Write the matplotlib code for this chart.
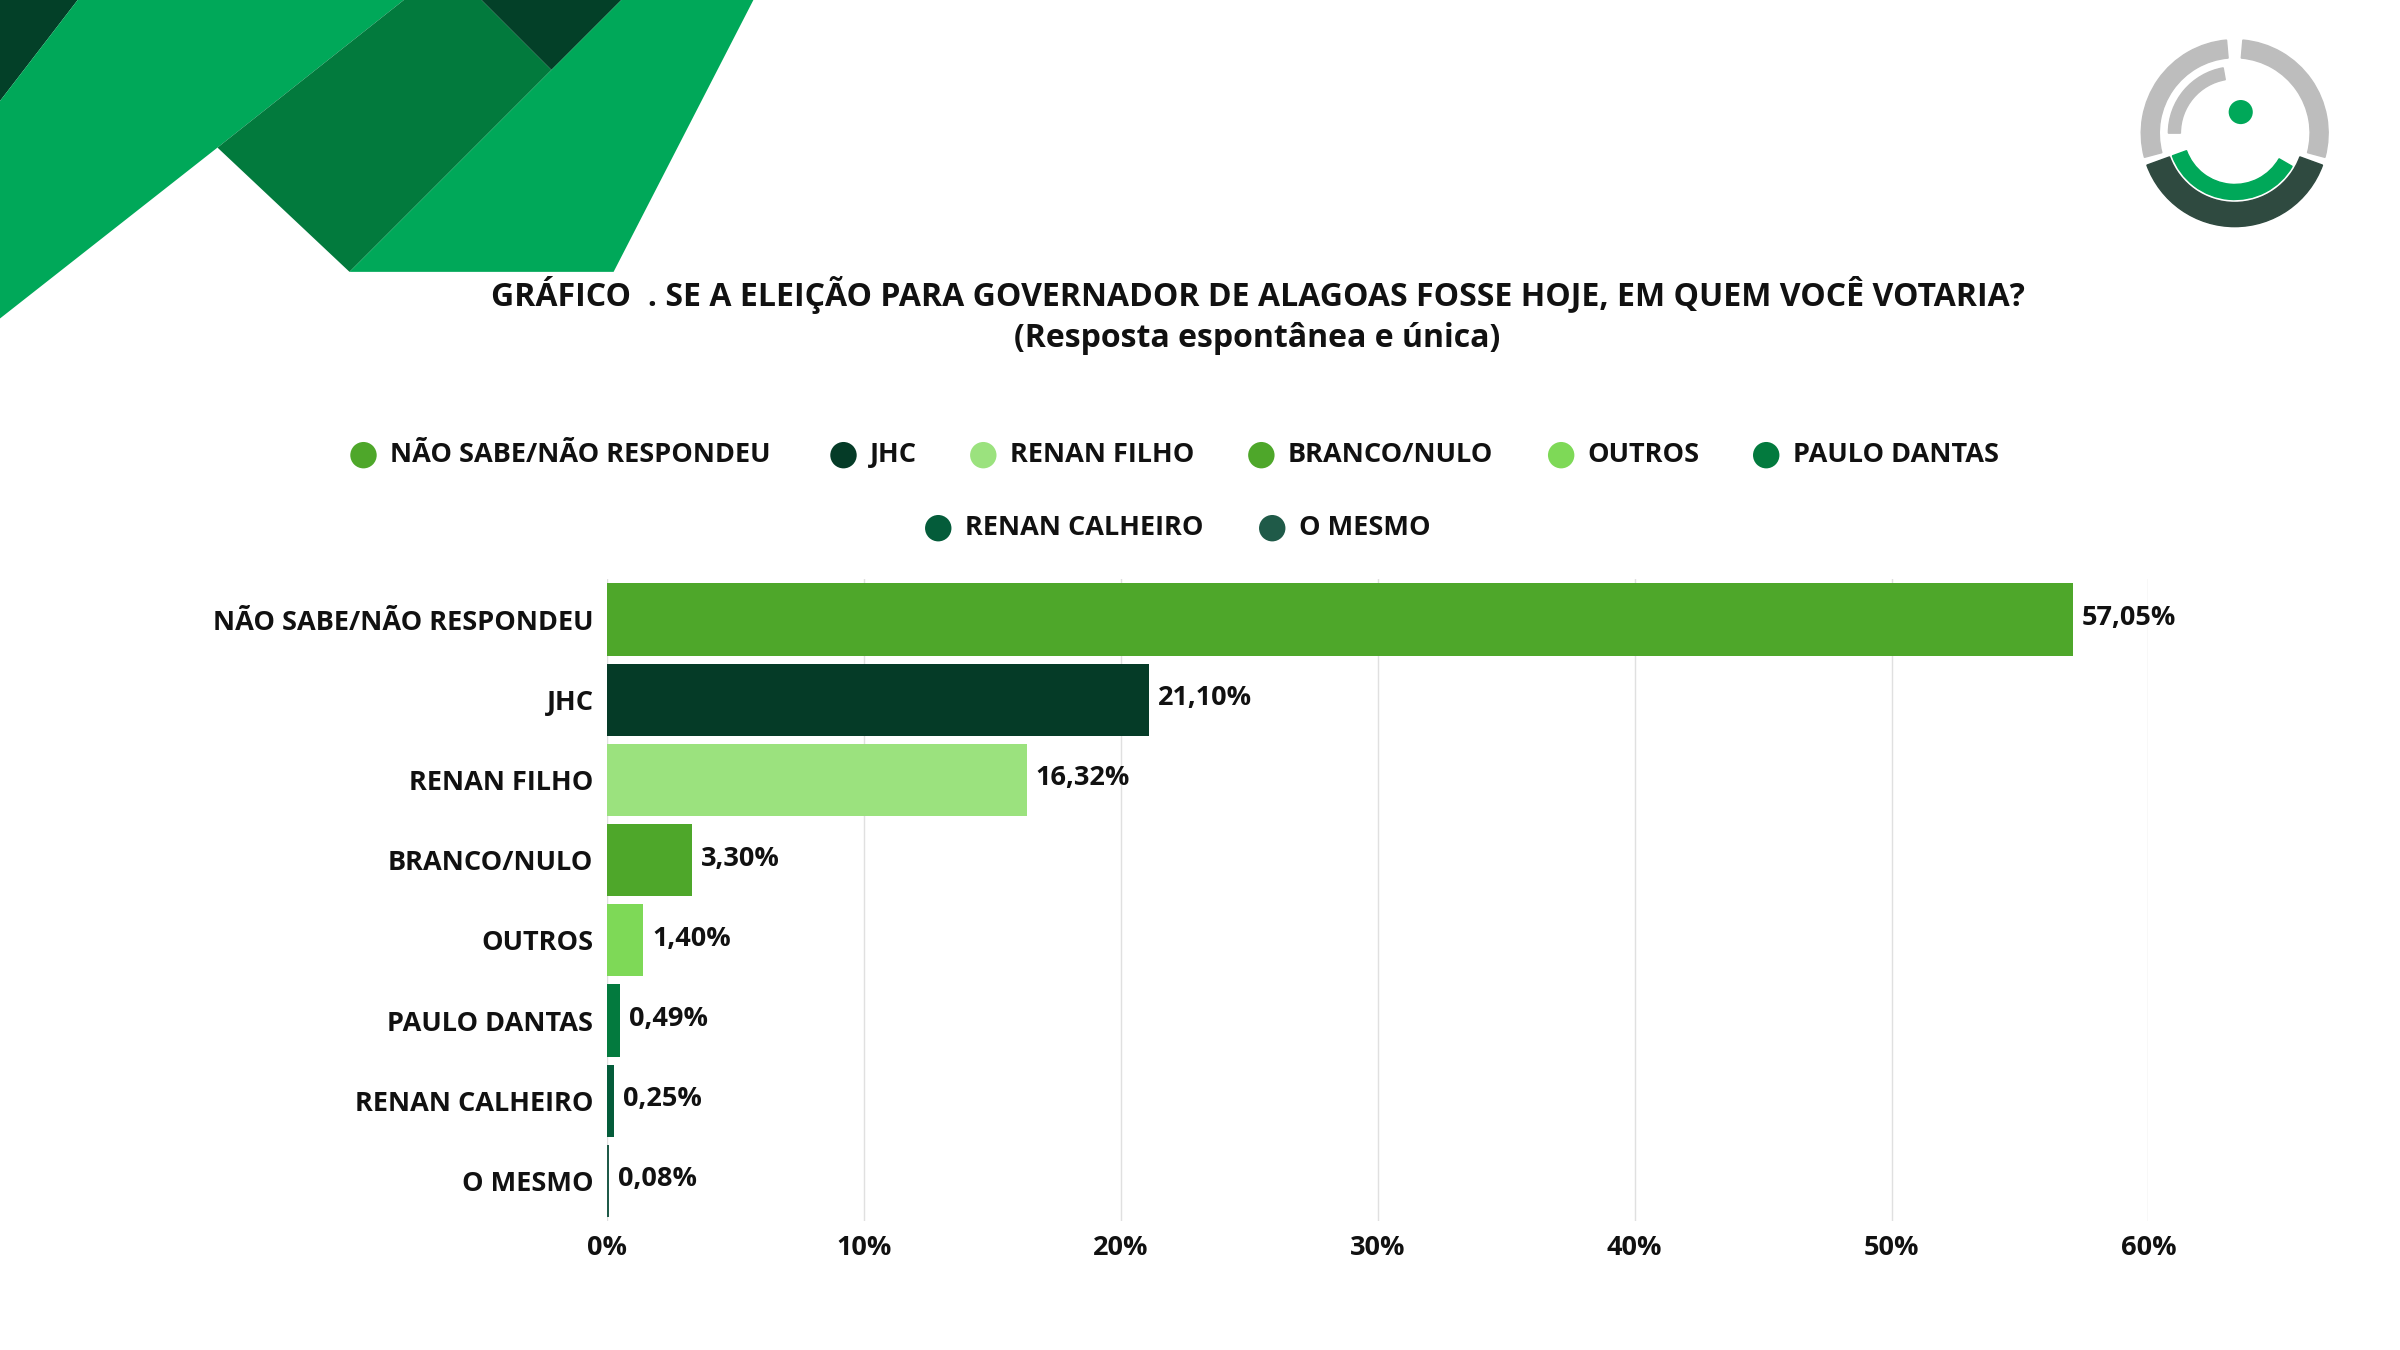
import matplotlib
matplotlib.use("Agg")
import matplotlib.pyplot as plt
from matplotlib.patches import Polygon, Circle, Wedge, Ellipse

categories = ["NÃO SABE/NÃO RESPONDEU", "JHC", "RENAN FILHO", "BRANCO/NULO", "OUTROS",
              "PAULO DANTAS", "RENAN CALHEIRO", "O MESMO"]
values = [57.05, 21.10, 16.32, 3.30, 1.40, 0.49, 0.25, 0.08]
labels = ["57,05%", "21,10%", "16,32%", "3,30%", "1,40%", "0,49%", "0,25%", "0,08%"]
colors = ["#4ea72a", "#053b27", "#9be27e", "#4ea72a", "#7ed957", "#037a3e", "#045c3a", "#1f5a48"]
ticks = [0, 10, 20, 30, 40, 50, 60]

plt.rcParams['font.family'] = ['Open Sans', 'DejaVu Sans']
W, H = 1568, 882
FS = 19.5
fig = plt.figure(figsize=(24, 13.5), dpi=100)

def P(pts):
    return [(x / 1545, 1 - y / 869) for x, y in pts]

for pts, c in [
    ([(0, 0), (50, 0), (0, 65)], "#034028"),
    ([(0, 65), (50, 0), (260, 0), (140, 95), (0, 205)], "#00a859"),
    ([(140, 95), (260, 0), (310, 0), (355, 45), (225, 175)], "#027a3d"),
    ([(310, 0), (400, 0), (355, 45)], "#034028"),
    ([(355, 45), (400, 0), (485, 0), (395, 175), (225, 175)], "#00a859"),
]:
    fig.add_artist(Polygon(P(pts), closed=True, transform=fig.transFigure, color=c, lw=0))

# logo
lax = fig.add_axes([1395 / W, 1 - 152 / H, 130 / W, 130 / H])
lax.set_xlim(0, 132); lax.set_ylim(0, 132); lax.set_aspect('equal'); lax.axis('off')
cx, cy = 66, 66
lax.add_patch(Wedge((cx, cy), 62, 200, 340, width=16, color="#2f4a40"))
lax.add_patch(Wedge((cx, cy), 44, 200, 330, width=10, color="#00a859"))
lax.add_patch(Wedge((cx, cy), 62, 95, 195, width=12, color="#bdbdbd"))
lax.add_patch(Wedge((cx, cy), 62, 345, 85, width=12, color="#bdbdbd"))
lax.add_patch(Wedge((cx, cy), 44, 100, 180, width=8, color="#bdbdbd"))
lax.add_patch(Circle((cx + 4, cy + 14), 8, color="#00a859", lw=0))

fig.text(0.524, 1 - 190 / W * (W / H) * 1 if False else 1 - 190 / 869, "GRÁFICO  . SE A ELEIÇÃO PARA GOVERNADOR DE ALAGOAS FOSSE HOJE, EM QUEM VOCÊ VOTARIA?",
         ha='center', va='center', fontsize=23, fontweight='bold', color="#111")
fig.text(0.524, 1 - 218 / 869, "(Resposta espontânea e única)", ha='center', va='center',
         fontsize=23, fontweight='bold', color="#111")

leg_pos = [(234, 293), (543, 293), (633, 293), (812, 293), (1005, 293), (1137, 293), (604, 340), (819, 340)]
for (x, y), name, c in zip(leg_pos, categories, colors):
    fig.add_artist(Ellipse((x / 1545, 1 - y / 869), 17 / 1545, 17 / 869, transform=fig.transFigure, color=c, lw=0))
    fig.text((x + 17) / 1545, 1 - y / 869, name, ha='left', va='center', fontsize=FS, fontweight='bold', color="#111")

ax = fig.add_axes([391 / 1545, 1 - 786 / 869, (1383 - 391) / 1545, (786 - 373) / 869])
y = list(range(len(categories)))
ax.barh(y, values, color=colors, height=0.9)
for i, (v, l) in enumerate(zip(values, labels)):
    ax.text(v + 0.35, i - 0.02, l, va='center', ha='left', fontsize=FS, fontweight='bold', color="#111")
ax.set_yticks(y)
ax.set_yticklabels(categories, fontsize=FS, fontweight='bold', color="#111")
ax.set_ylim(len(categories) - 0.5, -0.5)
ax.set_xlim(0, 60)
ax.set_xticks(ticks)
ax.set_xticklabels([f"{t}%" for t in ticks], fontsize=FS, fontweight='bold', color="#111")
ax.grid(axis='x', color="#e0e0e0", lw=1)
ax.set_axisbelow(True)
for s in ax.spines.values():
    s.set_visible(False)
ax.tick_params(length=0, pad=10)

fig.savefig("out.png", dpi=100)
